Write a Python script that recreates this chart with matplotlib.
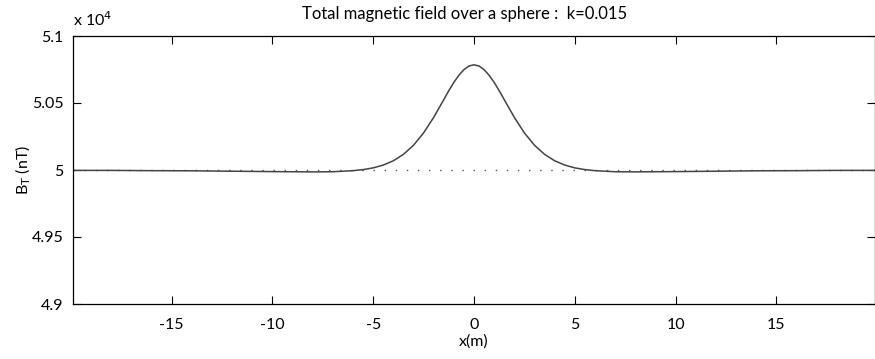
import numpy as np
import matplotlib
matplotlib.use('Agg')
import matplotlib.pyplot as plt
from matplotlib.ticker import FuncFormatter

# distance along profile (m) and total field (nT)
x = [-20, -18, -16, -14, -12, -10, -9, -8, -7, -6, -5.5, -5, -4.5, -4, -3.5, -3,
     -2.5, -2, -1.5, -1.25, -1, -0.75, -0.5, -0.25, 0, 0.25, 0.5, 0.75, 1, 1.25,
     1.5, 2, 2.5, 3, 3.5, 4, 4.5, 5, 5.5, 6, 7, 8, 9, 10, 12, 14, 16, 18, 20]
anom = [-3, -3, -5, -6, -9, -12, -13, -14, -13, -5, 3, 16, 37, 69, 117, 185,
        277, 393, 525, 592, 654, 707, 749, 776, 785, 776, 749, 707, 654, 592,
        525, 393, 277, 185, 117, 69, 37, 16, 3, -5, -13, -14, -13, -12, -9, -6, -5, -3, -3]
B0 = 50000
BT = [B0 + a for a in anom]

yticks = [49000, 49500, 50000, 50500, 51000]
xticks = [-15, -10, -5, 0, 5, 10, 15]

plt.rcParams['font.family'] = ['Lato', 'DejaVu Sans']
plt.rcParams['axes.unicode_minus'] = False
fig = plt.figure(figsize=(8.75, 3.59), dpi=100)
ax = fig.add_axes([73/875, 55/359, 802/875, 268/359])

ax.plot([-19.9, 19.9], [B0, B0], color='#555555', lw=1, linestyle=(0, (1, 7)))
ax.plot(x, BT, color='#444444', lw=1.1)

ax.set_xlim(-19.9, 19.9)
ax.set_ylim(49000, 51000)
ax.set_xticks(xticks)
ax.set_yticks(yticks)
ax.yaxis.set_major_formatter(FuncFormatter(lambda v, p: '%g' % (v / 1e4)))
ax.tick_params(direction='in', top=True, right=True, length=6, labelsize=11.5, width=0.8)
ax.tick_params(axis='x', pad=10)
ax.tick_params(axis='y', pad=7)
for s in ax.spines.values():
    s.set_linewidth(0.9)

ax.set_xlabel('x(m)', fontsize=11.5, labelpad=2)
ax.set_ylabel('B$_{\\rm T}$ (nT)', fontsize=11.5, labelpad=-1)
ax.set_title('Total magnetic field over a sphere :  k=0.015', fontsize=12, pad=12, x=0.488)
ax.text(0.0, 1.025, 'x 10$^{4}$', transform=ax.transAxes, fontsize=11.5, ha='left', va='bottom')

fig.savefig('out.png', dpi=100)
